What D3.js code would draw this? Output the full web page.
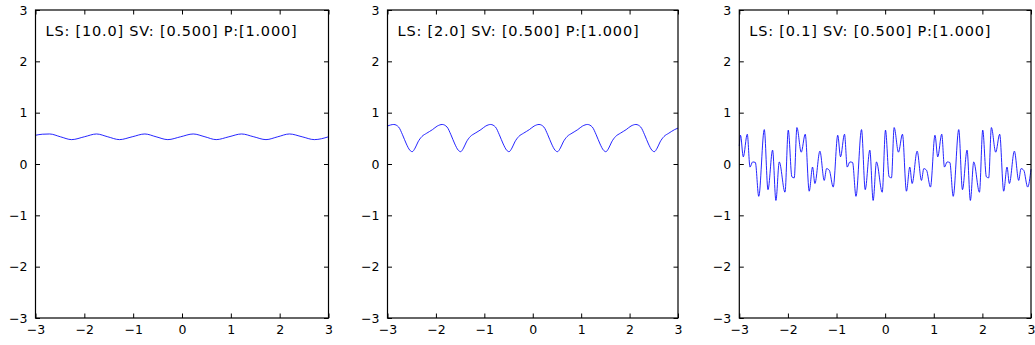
<!DOCTYPE html>
<html>
<head>
<meta charset="utf-8">
<script src="https://cdn.jsdelivr.net/npm/d3@7"></script>
<style>
  html, body { margin: 0; padding: 0; background: #fff; }
  svg { display: block; }
  text { font-family: "DejaVu Sans", sans-serif; fill: #000; }
</style>
</head>
<body>
<svg id="chart" width="1035" height="345"></svg>
<script>
// ---------- data ----------
const titles = [
  "LS: [10.0] SV: [0.500] P:[1.000]",
  "LS: [2.0] SV: [0.500] P:[1.000]",
  "LS: [0.1] SV: [0.500] P:[1.000]"
];
const xTicks = [-3, -2, -1, 0, 1, 2, 3];
const yTicks = [-3, -2, -1, 0, 1, 2, 3];

// Panel 1 (LS 10.0)
const xs1 = [-3.0, -2.86, -2.71, -2.49, -2.26, -2.0, -1.75, -1.52, -1.28, -1.02, -0.76, -0.53, -0.29, -0.03, 0.23, 0.47, 0.70, 0.96, 1.22, 1.47, 1.72, 1.96, 2.20, 2.46, 2.71, 3.0];
const ys1 = [0.56, 0.58, 0.585, 0.53, 0.475, 0.53, 0.585, 0.53, 0.475, 0.53, 0.585, 0.53, 0.475, 0.53, 0.585, 0.53, 0.475, 0.53, 0.585, 0.53, 0.475, 0.53, 0.585, 0.53, 0.475, 0.53];

// Panel 2 (LS 2.0)
const xs2 = [-3.0,
  -2.87, -2.77, -2.69, -2.61, -2.54, -2.49, -2.43, -2.37, -2.29, -2.19, -2.07, -1.97,
  -1.87, -1.77, -1.69, -1.61, -1.54, -1.49, -1.43, -1.37, -1.29, -1.19, -1.07, -0.97,
  -0.87, -0.77, -0.69, -0.61, -0.54, -0.49, -0.43, -0.37, -0.29, -0.19, -0.07, 0.03,
  0.13, 0.23, 0.31, 0.39, 0.46, 0.51, 0.57, 0.63, 0.71, 0.81, 0.93, 1.03,
  1.13, 1.23, 1.31, 1.39, 1.46, 1.51, 1.57, 1.63, 1.71, 1.81, 1.93, 2.03,
  2.13, 2.23, 2.31, 2.39, 2.46, 2.51, 2.57, 2.63, 2.71, 2.81, 2.93, 3.0];
const ys2 = [0.74,
  0.77, 0.72, 0.57, 0.39, 0.27, 0.24, 0.31, 0.43, 0.535, 0.60, 0.67, 0.74,
  0.77, 0.72, 0.57, 0.39, 0.27, 0.24, 0.31, 0.43, 0.535, 0.60, 0.67, 0.74,
  0.77, 0.72, 0.57, 0.39, 0.27, 0.24, 0.31, 0.43, 0.535, 0.60, 0.67, 0.74,
  0.77, 0.72, 0.57, 0.39, 0.27, 0.24, 0.31, 0.43, 0.535, 0.60, 0.67, 0.74,
  0.77, 0.72, 0.57, 0.39, 0.27, 0.24, 0.31, 0.43, 0.535, 0.60, 0.67, 0.74,
  0.77, 0.72, 0.57, 0.39, 0.27, 0.24, 0.31, 0.43, 0.535, 0.60, 0.67, 0.70];

// Panel 3 (LS 0.1)
const xs3 = [-3.0,
  -2.975, -2.918, -2.836, -2.78, -2.726, -2.67, -2.60, -2.486, -2.41, -2.315, -2.247, -2.178, -2.06,
  -1.993, -1.918, -1.87, -1.815, -1.726, -1.644, -1.562, -1.493, -1.445, -1.342, -1.253, -1.205, -1.15, -1.068,
  -0.975, -0.918, -0.836, -0.78, -0.726, -0.67, -0.60, -0.486, -0.41, -0.315, -0.247, -0.178, -0.06,
  0.007, 0.082, 0.13, 0.185, 0.274, 0.356, 0.438, 0.507, 0.555, 0.658, 0.747, 0.795, 0.85, 0.932,
  1.025, 1.082, 1.164, 1.22, 1.274, 1.33, 1.40, 1.514, 1.59, 1.685, 1.753, 1.822, 1.94,
  2.007, 2.082, 2.13, 2.185, 2.274, 2.356, 2.438, 2.507, 2.555, 2.658, 2.747, 2.795, 2.85, 2.932, 3.0];
const ys3 = [0.35,
  0.56, 0.14, 0.58, -0.06, 0.04, 0.03, -0.63, 0.67, -0.50, 0.27, -0.71, 0.04, -0.55,
  0.66, -0.25, -0.27, 0.71, 0.23, 0.58, -0.53, -0.06, -0.38, 0.25, -0.32, -0.09, -0.12, -0.45,
  0.56, 0.14, 0.58, -0.06, 0.04, 0.03, -0.63, 0.67, -0.50, 0.27, -0.71, 0.04, -0.55,
  0.66, -0.25, -0.27, 0.71, 0.23, 0.58, -0.53, -0.06, -0.38, 0.25, -0.32, -0.09, -0.12, -0.45,
  0.56, 0.14, 0.58, -0.06, 0.04, 0.03, -0.63, 0.67, -0.50, 0.27, -0.71, 0.04, -0.55,
  0.66, -0.25, -0.27, 0.71, 0.23, 0.58, -0.53, -0.06, -0.38, 0.25, -0.32, -0.09, -0.12, -0.45, -0.10];

const series = [
  { title: titles[0], xs: xs1, ys: ys1 },
  { title: titles[1], xs: xs2, ys: ys2 },
  { title: titles[2], xs: xs3, ys: ys3 }
];

// ---------- layout ----------
const panelLeft = [35.5, 387.5, 739.3];
const panelRight = [328.5, 678, 1031];
const plotTop = 10, plotBottom = 318;
const tickLen = 4.5;

const svg = d3.select("#chart");

series.forEach((s, i) => {
  const x = d3.scaleLinear().domain([-3, 3]).range([panelLeft[i], panelRight[i]]);
  const y = d3.scaleLinear().domain([-3, 3]).range([plotBottom, plotTop]);
  const g = svg.append("g");

  // data line
  const pts = s.xs.map((v, k) => [v, s.ys[k]]);
  const line = d3.line().x(d => x(d[0])).y(d => y(d[1])).curve(d3.curveMonotoneX);
  g.append("path")
    .datum(pts)
    .attr("d", line)
    .attr("fill", "none")
    .attr("stroke", "#0000ff")
    .attr("stroke-width", 1)
    .attr("stroke-opacity", 0.85);

  // axes with inward ticks on all sides
  const fmt = d => d < 0 ? "\u2212" + Math.abs(d) : String(d);
  const axB = d3.axisBottom(x).tickValues(xTicks).tickSizeInner(-tickLen).tickSizeOuter(0)
    .tickPadding(7).tickFormat(fmt);
  const axT = d3.axisTop(x).tickValues(xTicks).tickSizeInner(-tickLen).tickSizeOuter(0).tickFormat("");
  const axL = d3.axisLeft(y).tickValues(yTicks).tickSizeInner(-tickLen).tickSizeOuter(0)
    .tickPadding(8).tickFormat(fmt);
  const axR = d3.axisRight(y).tickValues(yTicks).tickSizeInner(-tickLen).tickSizeOuter(0).tickFormat("");

  const gb = g.append("g").attr("transform", `translate(0,${plotBottom})`).call(axB);
  const gt = g.append("g").attr("transform", `translate(0,${plotTop})`).call(axT);
  const gl = g.append("g").attr("transform", `translate(${panelLeft[i]},0)`).call(axL);
  const gr = g.append("g").attr("transform", `translate(${panelRight[i]},0)`).call(axR);
  [gb, gt, gl, gr].forEach(a => {
    a.select(".domain").remove();
    a.selectAll("line").attr("stroke", "#000").attr("stroke-width", 1);
    a.selectAll("text").style("font-family", "DejaVu Sans").style("font-size", "12.5px").attr("fill", "#000");
  });

  // frame
  g.append("rect")
    .attr("x", panelLeft[i]).attr("y", plotTop)
    .attr("width", panelRight[i] - panelLeft[i]).attr("height", plotBottom - plotTop)
    .attr("fill", "none").attr("stroke", "#000").attr("stroke-width", 1.2);

  // title inside
  g.append("text")
    .attr("x", panelLeft[i] + 10)
    .attr("y", 36)
    .style("font-size", "14.5px")
    .style("letter-spacing", "0.8px")
    .text(s.title);
});
</script>
</body>
</html>
